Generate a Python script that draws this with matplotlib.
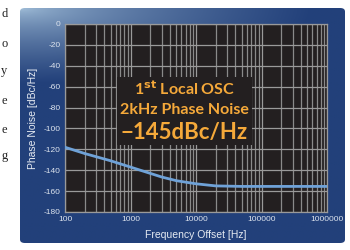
import numpy as np
import matplotlib.pyplot as plt
from matplotlib.patches import FancyBboxPatch, Rectangle
from matplotlib.colors import to_rgb

plt.rcParams["axes.unicode_minus"] = False

# curve (offset frequency in Hz, phase noise in dBc/Hz)
freq_hz = [100, 200, 500, 1000, 2000, 3000, 5000, 10000, 20000, 50000, 100000, 1000000]
noise_dbc = [-118, -124, -131, -137, -143, -146.5, -150, -153, -155, -155.5, -155.5, -155.5]

y_ticks = [0, -20, -40, -60, -80, -100, -120, -140, -160, -180]
x_ticks = [100, 1000, 10000, 100000, 1000000]
x_tick_labels = ["100", "1000", "10000", "100000", "1000000"]

badge_lines = ["1$^{\\mathbf{st}}$ Local OSC", "2kHz Phase Noise", "\u2212145dBc/Hz"]

# bits of the neighbouring paragraph cut off on the left edge
edge_chars = ["d", "o", "y", "e", "e", "g"]
edge_y = [14, 44, 71, 101, 130, 156]

fig = plt.figure(figsize=(3.5, 2.5), dpi=100)
fig.patch.set_facecolor("white")

# gradient panel behind the chart
ax_bg = fig.add_axes([20 / 350, 7 / 250, 325 / 350, 235 / 250])
ax_bg.set_axis_off()
u, v = np.meshgrid(np.linspace(0, 1, 300), np.linspace(0, 1, 220))
t = np.clip(np.sqrt((u / 0.9) ** 2 + (v / 0.32) ** 2), 0, 1) ** 0.6
light = np.array(to_rgb("#a6c3dc"))
dark = np.array(to_rgb("#22407a"))
grad = light * (1 - t[..., None]) + dark * t[..., None]
img = ax_bg.imshow(grad, extent=[0, 1, 0, 1], origin="upper", aspect="auto")
clip = FancyBboxPatch((0, 0), 1, 1, boxstyle="round,pad=0,rounding_size=0.015",
                      transform=ax_bg.transAxes, facecolor="none", edgecolor="none")
ax_bg.add_patch(clip)
img.set_clip_path(clip)
ax_bg.set_xlim(0, 1)
ax_bg.set_ylim(0, 1)

ax = fig.add_axes([65 / 350, 38 / 250, 262 / 350, 188 / 250])
ax.set_facecolor("#231f20")
ax.set_xscale("log")
ax.set_xlim(100, 1000000)
ax.set_ylim(-180, 0)
ax.set_yticks(y_ticks)
ax.set_xticks(x_ticks)
ax.set_xticklabels(x_tick_labels)
ax.grid(True, which="major", color="#9a9a9a", linewidth=0.9)
ax.grid(True, which="minor", axis="x", color="#8a8a8a", linewidth=0.9)
ax.tick_params(which="both", length=0, labelsize=6, labelcolor="#dde4ee", pad=3)
for lab in ax.get_xticklabels() + ax.get_yticklabels():
    lab.set_family("Liberation Sans")
for sp in ax.spines.values():
    sp.set_color("#9a9a9a")
    sp.set_linewidth(0.9)

ax.plot(freq_hz, noise_dbc, color="#6fa2d8", linewidth=2.0, zorder=3)

ax.set_xlabel("Frequency Offset [Hz]", fontsize=7.5, color="#e6ebf2",
              family="Liberation Sans", labelpad=5)
ax.set_ylabel("Phase Noise [dBc/Hz]", fontsize=7.5, color="#e6ebf2",
              family="Liberation Sans", labelpad=4)

# badge over the grid
ax.add_patch(Rectangle((0.198, 0.356), 0.516, 0.362, transform=ax.transAxes,
                       facecolor="#231f20", edgecolor="none", zorder=4))
orange = "#f5a93a"
ax.text(0.456, 0.655, badge_lines[0], transform=ax.transAxes, ha="center", va="center",
        fontsize=11.5, fontweight="bold", color=orange, family="Lato", zorder=5)
ax.text(0.456, 0.54, badge_lines[1], transform=ax.transAxes, ha="center", va="center",
        fontsize=11.5, fontweight="bold", color=orange, family="Lato", zorder=5)
ax.text(0.456, 0.425, badge_lines[2], transform=ax.transAxes, ha="center", va="center",
        fontsize=16, fontweight="bold", color=orange, family="Lato", zorder=5)

for ch, yy in zip(edge_chars, edge_y):
    fig.text(1 / 350, 1 - yy / 250, ch, fontsize=9, family="Liberation Serif",
             color="#222222", ha="left", va="center")

fig.savefig("out.png", dpi=100)
